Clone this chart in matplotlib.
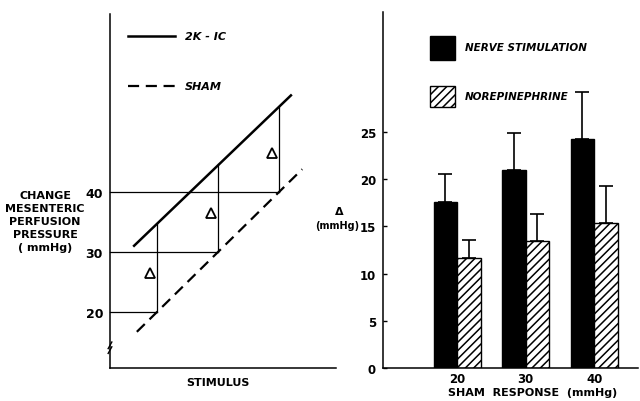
import matplotlib
matplotlib.use("Agg")
import matplotlib.pyplot as plt
from matplotlib.patches import Rectangle

# left panel: schematic, stimulus levels and pressures
stim = [1, 2, 3]
sham_resp = [20, 30, 40]
ki_resp = [34.7, 44.7, 54.2]
left_ticks = [20, 30, 40]

# right panel: delta (mmHg) per sham response
groups = ["20", "30", "40"]
nerve = [17.6, 21.0, 24.3]
nerve_err = [2.9, 3.9, 4.9]
norepi = [11.6, 13.4, 15.4]
norepi_err = [2.0, 2.9, 3.9]

plt.rcParams["font.family"] = "DejaVu Sans"
plt.rcParams["font.weight"] = "bold"
plt.rcParams["hatch.linewidth"] = 1.1

W, H = 640, 402
fig = plt.figure(figsize=(6.4, 4.02), dpi=100)

def fx(px):
    return px / W

def fy(py):
    return 1 - py / H

# ---------- left panel ----------
axl = fig.add_axes([fx(110), fy(369), fx(336) - fx(110), fy(15) - fy(369)])
axl.set_xlim(0.23, 3.934)
axl.set_ylim(10.67, 69.67)
for s in ("top", "right"):
    axl.spines[s].set_visible(False)
for s in ("left", "bottom"):
    axl.spines[s].set_linewidth(1.1)
axl.set_xticks([])
axl.set_yticks(left_ticks)
axl.set_yticklabels([str(t) for t in left_ticks], fontsize=9, fontweight="bold")
axl.tick_params(axis="y", length=0, pad=5)

# extended lines through the responses
slope = (ki_resp[-1] - ki_resp[0]) / (stim[-1] - stim[0])
kx = [0.61, 3.21]
axl.plot(kx, [ki_resp[0] + slope * (x - 1) for x in kx], color="black", lw=1.8,
         solid_capstyle="butt")
sx = [0.67, 3.38]
axl.plot(sx, [sham_resp[0] + 10 * (x - 1) for x in sx], color="black", lw=1.6,
         linestyle=(0, (5, 3)))

for x, s, k in zip(stim, sham_resp, ki_resp):
    axl.plot([axl.get_xlim()[0], x], [s, s], color="black", lw=0.9, clip_on=False)
    axl.plot([x, x], [s, k], color="black", lw=0.9)
    axl.plot(x - 0.12, s + 6.5, marker="^", ms=6.5, mfc="none", mec="black", mew=1.3)

# axis break mark
axl.plot([0.23, 0.23], [13.4, 14.8], color="white", lw=3, clip_on=False)
axl.plot([0.20, 0.26], [13.1, 14.2], color="black", lw=1.0, clip_on=False)
axl.plot([0.20, 0.26], [13.9, 15.0], color="black", lw=1.0, clip_on=False)

# left legend
axl.plot([0.525, 1.295], [66, 66], color="black", lw=1.8, clip_on=False)
axl.text(1.46, 66, "2K - IC", fontsize=8, style="italic", fontweight="bold", va="center")
axl.plot([0.525, 1.295], [57.7, 57.7], color="black", lw=1.6, linestyle=(0, (5, 3)),
         clip_on=False)
axl.text(1.46, 57.7, "SHAM", fontsize=8, style="italic", fontweight="bold", va="center")

fig.text(fx(45), fy(222), "CHANGE\nMESENTERIC\nPERFUSION\nPRESSURE\n( mmHg)",
         ha="center", va="center", fontsize=8, fontweight="bold", linespacing=1.4)
fig.text(fx(218), fy(383), "STIMULUS", ha="center", va="center", fontsize=8,
         fontweight="bold")

# ---------- right panel ----------
axr = fig.add_axes([fx(383), fy(369), fx(638) - fx(383), fy(13) - fy(369)])
axr.set_xlim(-1.08, 2.64)
axr.set_ylim(0, 37.7)
for s in ("top", "right"):
    axr.spines[s].set_visible(False)
for s in ("left", "bottom"):
    axr.spines[s].set_linewidth(1.1)

pos = list(range(len(groups)))
w = 0.343
axr.bar([p - w / 2 for p in pos], nerve, width=w, color="black", edgecolor="black",
        linewidth=1.0)
axr.bar([p + w / 2 for p in pos], norepi, width=w, color="white", edgecolor="black",
        linewidth=1.0, hatch="////")
axr.errorbar([p - w / 2 for p in pos], nerve, yerr=[[0] * 3, nerve_err], fmt="none",
             ecolor="black", elinewidth=1.2, capsize=5, capthick=1.2)
axr.errorbar([p + w / 2 for p in pos], norepi, yerr=[[0] * 3, norepi_err], fmt="none",
             ecolor="black", elinewidth=1.2, capsize=5, capthick=1.2)

axr.set_xticks(pos)
axr.set_xticklabels(groups, fontsize=8.5, fontweight="bold")
axr.set_yticks([0, 5, 10, 15, 20, 25])
axr.set_yticklabels(["0", "5", "10", "15", "20", "25"], fontsize=8.5, fontweight="bold")
axr.tick_params(axis="x", length=0, pad=3)
axr.tick_params(axis="y", direction="in", length=3, width=1.0, pad=5)

# right legend
axr.add_patch(Rectangle((-0.394, 32.6), 0.365, 2.6, facecolor="black", edgecolor="black",
                        clip_on=False))
axr.add_patch(Rectangle((-0.394, 27.6), 0.365, 2.3, facecolor="white", edgecolor="black",
                        hatch="////", lw=1.0, clip_on=False))
axr.text(0.117, 34.0, "NERVE STIMULATION", fontsize=7.5, style="italic",
         fontweight="bold", va="center")
axr.text(0.117, 28.8, "NOREPINEPHRINE", fontsize=7.5, style="italic",
         fontweight="bold", va="center")

fig.text(fx(339), fy(212), "\u0394", ha="center", va="center", fontsize=8,
         fontweight="bold")
fig.text(fx(337), fy(226), "(mmHg)", ha="center", va="center", fontsize=7,
         fontweight="bold")
fig.text(fx(533), fy(393), "SHAM  RESPONSE  (mmHg)", ha="center", va="center",
         fontsize=8, fontweight="bold")

fig.savefig("out.png", dpi=100)
